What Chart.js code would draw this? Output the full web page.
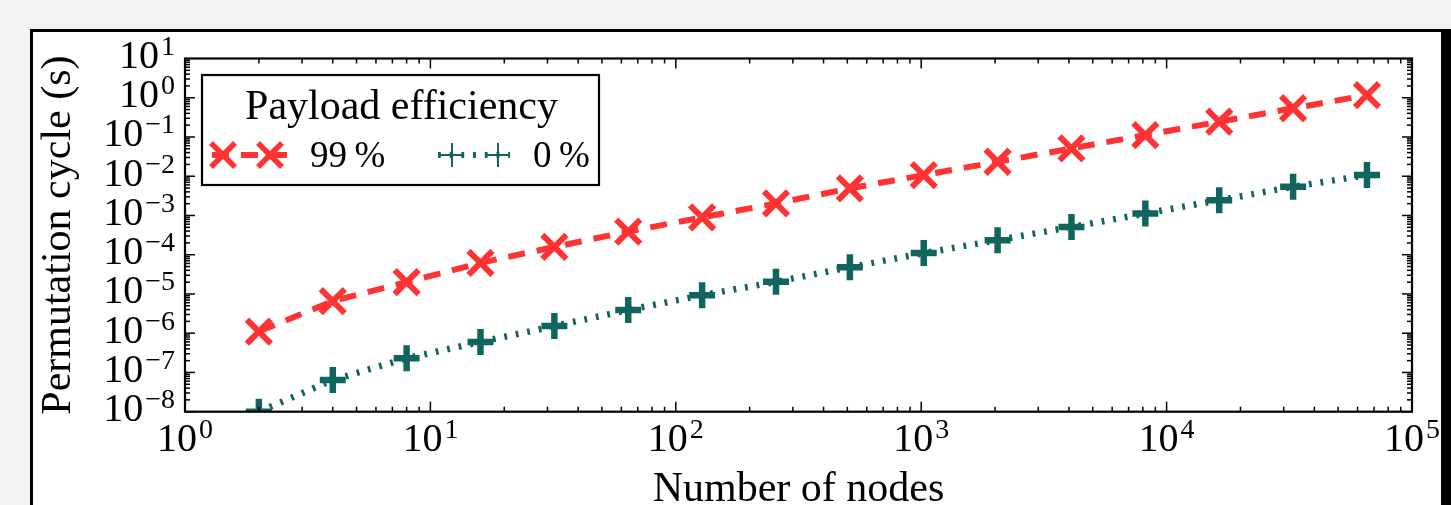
<!DOCTYPE html>
<html lang="en">
<head>
<meta charset="UTF-8">
<title>Permutation cycle vs number of nodes</title>
<script src="https://cdn.jsdelivr.net/npm/chart.js"></script>
<style>
  html, body { margin: 0; padding: 0; background: #f2f2f2; overflow: hidden; }
  #frame {
    position: absolute; left: 30px; top: 29px;
    width: 1408px; height: 473px;
    border: 3px solid #000; border-right-width: 13px; border-bottom: none;
    background: #fff;
  }
  canvas { display: block; }
</style>
</head>
<body>
<div id="frame"><canvas id="cycleChart" width="1408" height="473"></canvas></div>

<script>
// data
const nodes = [2, 4, 8, 16, 32, 64, 128, 256, 512, 1024, 2048, 4096, 8192, 16384, 32768, 65536];
const cycle99 = [1.1e-6, 6.6e-6, 2.0e-5, 6.2e-5, 1.58e-4, 3.9e-4, 8.9e-4, 2.04e-3, 4.9e-3,
                 1.07e-2, 2.34e-2, 5.1e-2, 1.12e-1, 2.45e-1, 5.4e-1, 1.17];
const cycle0 = [1.0e-8, 6.4e-8, 2.3e-7, 6.0e-7, 1.52e-6, 3.9e-6, 9.3e-6, 2.04e-5, 4.8e-5,
                1.1e-4, 2.35e-4, 5.1e-4, 1.12e-3, 2.45e-3, 5.4e-3, 1.07e-2];
const seriesLabels = ['99\u2009%', '0\u2009%'];
const legendTitle = 'Payload efficiency';
const xExponents = [0, 1, 2, 3, 4, 5];
const yExponents = [-8, -7, -6, -5, -4, -3, -2, -1, 0, 1];
const xTitle = 'Number of nodes';
const yTitle = 'Permutation cycle (s)';

const RED = '#ff3333';
const TEAL = '#10665f';
const SERIF = '"Liberation Serif", "Times New Roman", serif';

const toPoints = (ys) => nodes.map((n, i) => ({ x: n, y: ys[i] }));

function line(ctx, x1, y1, x2, y2) {
    ctx.beginPath();
    ctx.moveTo(x1, y1);
    ctx.lineTo(x2, y2);
    ctx.stroke();
}

// "10" with a raised exponent, like the mathtext labels
function drawPower(ctx, exp, x, y, align) {
    const base = '10';
    const sup = exp < 0 ? '\u2212' + (-exp) : String(exp);
    ctx.font = '40px ' + SERIF;
    const bw = ctx.measureText(base).width;
    ctx.font = '28px ' + SERIF;
    const sw = ctx.measureText(sup).width;
    const total = bw + 2 + sw;
    const left = align === 'right' ? x - total : x - total / 2;
    ctx.textAlign = 'left';
    ctx.textBaseline = 'alphabetic';
    ctx.font = '40px ' + SERIF;
    ctx.fillText(base, left, y);
    ctx.font = '28px ' + SERIF;
    ctx.fillText(sup, left + bw + 2, y - 13);
}

const axesPlugin = {
    id: 'axesPlugin',
    afterDatasetsDraw(chart) {
        const ctx = chart.ctx;
        const a = chart.chartArea;
        const xs = chart.scales.x, ys = chart.scales.y;
        ctx.save();
        ctx.strokeStyle = '#000';
        ctx.fillStyle = '#000';

        // inward ticks on all four sides
        ctx.lineWidth = 1.5;
        for (let d = 0; d < 5; d++) {
            for (let m = 1; m < 10; m++) {
                const px = xs.getPixelForValue(m * Math.pow(10, d));
                const len = m === 1 ? 10 : 5;
                line(ctx, px, a.bottom, px, a.bottom - len);
                line(ctx, px, a.top, px, a.top + len);
            }
        }
        for (let d = -8; d < 1; d++) {
            for (let m = 1; m < 10; m++) {
                const py = ys.getPixelForValue(m * Math.pow(10, d));
                const len = m === 1 ? 10 : 5;
                line(ctx, a.left, py, a.left + len, py);
                line(ctx, a.right, py, a.right - len, py);
            }
        }

        // frame
        ctx.lineWidth = 2.2;
        ctx.strokeRect(a.left, a.top, a.right - a.left, a.bottom - a.top);

        // tick labels
        xExponents.forEach(e => drawPower(ctx, e, xs.getPixelForValue(Math.pow(10, e)), a.bottom + 39, 'center'));
        yExponents.forEach(e => drawPower(ctx, e, a.left - 10, ys.getPixelForValue(Math.pow(10, e)) + 9.5, 'right'));

        // axis titles
        ctx.font = '42px ' + SERIF;
        ctx.textAlign = 'center';
        ctx.textBaseline = 'alphabetic';
        ctx.fillText(xTitle, (a.left + a.right) / 2, a.bottom + 89);
        ctx.save();
        ctx.translate(37, (a.top + a.bottom) / 2);
        ctx.rotate(-Math.PI / 2);
        ctx.fillText(yTitle, 0, 0);
        ctx.restore();

        // legend
        const lx = 169, ly = 43, lw = 397, lh = 110;
        ctx.fillStyle = '#fff';
        ctx.fillRect(lx, ly, lw, lh);
        ctx.lineWidth = 2.2;
        ctx.strokeRect(lx, ly, lw, lh);
        ctx.fillStyle = '#000';
        ctx.font = '42px ' + SERIF;
        ctx.textAlign = 'center';
        ctx.fillText(legendTitle, lx + lw / 2 + 1, ly + 44);

        const rowY = ly + 80;
        // red handle
        ctx.strokeStyle = RED;
        ctx.lineWidth = 6;
        ctx.setLineDash([17, 12]);
        line(ctx, 179, rowY, 254, rowY);
        ctx.setLineDash([]);
        ctx.lineWidth = 5.5;
        [190, 237].forEach(cx => {
            const r = 12;
            line(ctx, cx - r, rowY - r, cx + r, rowY + r);
            line(ctx, cx - r, rowY + r, cx + r, rowY - r);
        });
        // teal handle
        ctx.strokeStyle = TEAL;
        ctx.lineWidth = 6;
        ctx.setLineDash([2.8, 8.9]);
        line(ctx, 405, rowY, 477, rowY);
        ctx.setLineDash([]);
        ctx.lineWidth = 2;
        [419, 465].forEach(cx => {
            line(ctx, cx - 12, rowY, cx + 12, rowY);
            line(ctx, cx, rowY - 12, cx, rowY + 12);
        });

        ctx.fillStyle = '#000';
        ctx.textAlign = 'left';
        ctx.font = '37px ' + SERIF;
        ctx.fillText(seriesLabels[0], 277, rowY + 12);
        ctx.fillText(seriesLabels[1], 500, rowY + 12);
        ctx.restore();
    }
};

const ctx = document.getElementById('cycleChart').getContext('2d');

new Chart(ctx, {
    type: 'line',
    data: {
        datasets: [
            {
                label: seriesLabels[0],
                data: toPoints(cycle99),
                borderColor: RED,
                borderWidth: 6,
                borderDash: [17, 12],
                pointStyle: 'crossRot',
                pointRadius: 17,
                pointBorderWidth: 6,
                pointBorderColor: RED,
                pointBackgroundColor: RED,
                clip: 0
            },
            {
                label: seriesLabels[1],
                data: toPoints(cycle0),
                borderColor: TEAL,
                borderWidth: 6.5,
                borderDash: [2.8, 8.9],
                pointStyle: 'cross',
                pointRadius: 13,
                pointBorderWidth: 6.5,
                pointBorderColor: TEAL,
                pointBackgroundColor: TEAL,
                clip: 0
            }
        ]
    },
    options: {
        responsive: false,
        animation: false,
        layout: { padding: { left: 0, top: 26.5, right: 29, bottom: 0 } },
        plugins: {
            legend: { display: false },
            tooltip: { enabled: false }
        },
        elements: { line: { tension: 0 } },
        scales: {
            x: {
                type: 'logarithmic',
                min: 1,
                max: 1e5,
                grid: { display: false },
                border: { display: false },
                ticks: { display: false },
                afterFit: (scale) => { scale.height = 93.3; }
            },
            y: {
                type: 'logarithmic',
                min: 1e-8,
                max: 10,
                grid: { display: false },
                border: { display: false },
                ticks: { display: false },
                afterFit: (scale) => { scale.width = 152; }
            }
        }
    },
    plugins: [axesPlugin]
});
</script>
</body>
</html>
